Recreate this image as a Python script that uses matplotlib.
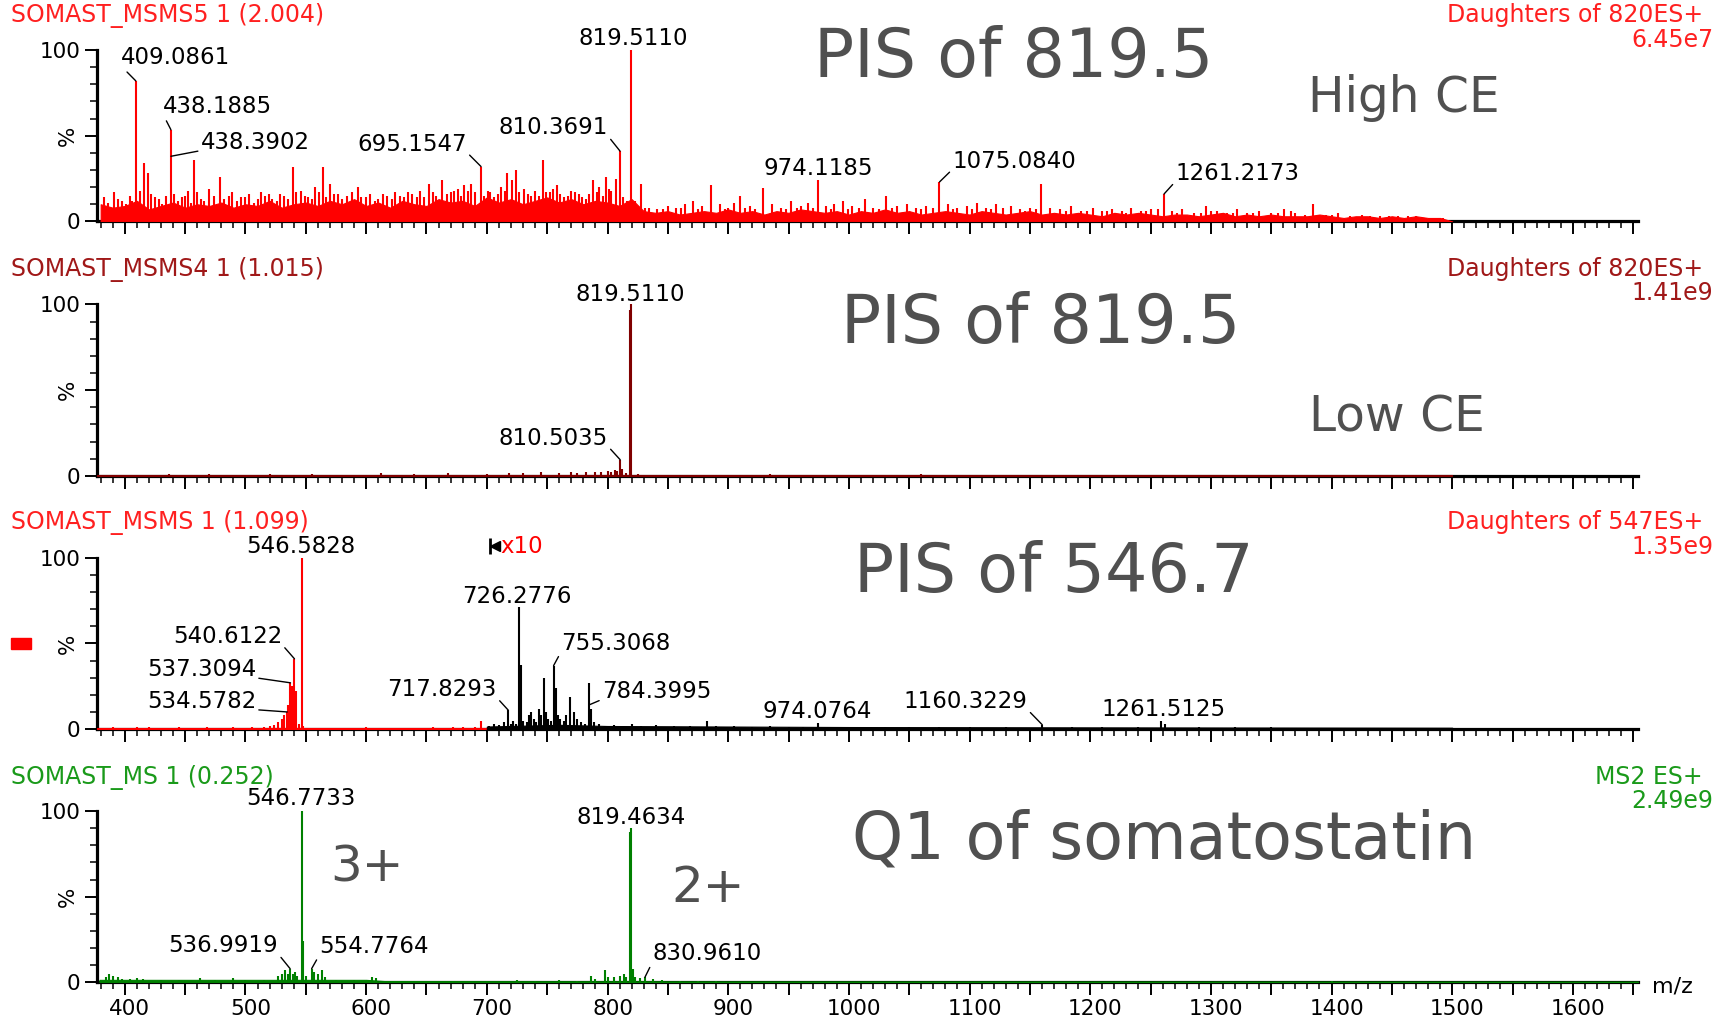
import numpy as np
import matplotlib

matplotlib.use("Agg")
import matplotlib.pyplot as plt
import matplotlib.ticker as mticker
from matplotlib.patches import Rectangle
from matplotlib.transforms import ScaledTranslation

# ---------------------------------------------------------------------------
# Data: (m/z, relative intensity %)
# ---------------------------------------------------------------------------

# Panel 1 - SOMAST_MSMS5 (high CE): dense noise floor, one value per 10 m/z
floor1_mz = np.arange(380, 1501, 10)
floor1_pct = [
    10, 8, 9, 12, 7, 9, 11, 8, 10, 9,
    11, 8, 10, 9, 12, 8, 10, 11, 9, 12,
    10, 13, 9, 11, 8, 12, 10, 9, 13, 11,
    12, 9, 14, 11, 13, 10, 12, 14, 11, 13,
    10, 12, 11, 9, 13, 6, 5, 6, 4, 5,
    6, 5, 7, 5, 6, 4, 6, 5, 7, 6,
    5, 6, 4, 6, 5, 7, 5, 6, 4, 5,
    6, 5, 4, 6, 5, 4, 5, 6, 4, 5,
    4, 5, 4, 3, 5, 4, 5, 4, 3, 4,
    4, 3, 4, 5, 3, 4, 3, 4, 3, 3,
    3, 4, 3, 2, 3, 3, 2, 3, 2, 3,
    2, 2, 0,
]
sticks1 = [
    (391, 17), (398, 12), (404, 15), (409.1, 82), (413, 18), (416, 34), (419, 28),
    (425, 14), (431, 10), (438.2, 53.5), (441, 16), (447, 14), (452, 18), (457, 36),
    (463, 13), (470, 19), (479, 26), (486, 15), (493, 12), (500, 14), (507, 11),
    (513, 17), (519.6, 16), (526, 12), (532, 15), (539, 32), (546, 18), (552, 14),
    (558, 20), (564, 32), (570, 22), (577, 16), (584, 15), (593, 20), (600, 14),
    (607, 12), (614, 16), (621, 13), (628, 15), (635, 17), (642, 14), (652, 22),
    (658, 15), (663, 24), (670, 17), (676, 19), (681, 21), (687, 22), (695.2, 32),
    (701, 18), (706, 14), (712, 20), (717, 28), (721, 24), (724, 30), (731, 19),
    (737, 15), (746.5, 36), (752, 17), (758, 21), (764, 14), (770, 18), (776, 16),
    (782, 13), (788, 24), (793, 20), (799, 26), (803, 18), (807, 25), (810.4, 41),
    (813, 14), (819.5, 100), (823, 12), (828, 22), (834, 8), (841, 7), (850, 9),
    (857, 8), (864, 10), (871, 12), (878, 9), (886, 21), (893, 10), (900, 8),
    (905, 11), (910, 15), (918, 9), (929, 19.5), (936, 10), (944, 8), (952, 12),
    (960, 9), (966, 11), (974.1, 24), (981, 9), (988, 10), (995, 12), (1003, 9),
    (1013, 13), (1020, 8), (1031, 15), (1040, 9), (1048, 10), (1056, 8), (1064, 9),
    (1075.1, 23), (1082, 10), (1090, 8), (1098, 9), (1106, 11), (1114, 8),
    (1122, 10), (1134, 9), (1142, 7), (1150, 8), (1159.6, 22), (1167, 8),
    (1175, 7), (1184, 9), (1192, 6), (1202, 8), (1210, 6), (1218, 7), (1226, 6),
    (1234, 8), (1242, 6), (1250, 7), (1261.2, 16), (1268, 6), (1276, 7), (1286, 5),
    (1296, 9), (1305, 6), (1313, 5), (1322, 7), (1330, 5), (1340, 6), (1350, 5),
    (1361, 7), (1370, 5), (1378, 4), (1385, 10), (1395, 4), (1405, 5), (1415, 3),
    (1425, 4), (1440, 3), (1455, 3), (1470, 3), (1485, 2),
]
# smaller spikes filling the gaps of panel 1
sticks1_small = [
    (383, 14), (386, 11), (394, 13), (401, 10), (406, 12), (422, 16), (428, 13),
    (434, 15), (444, 12), (450, 15), (455, 11), (460, 17), (466, 12), (474, 15),
    (482, 13), (489, 17), (496, 14), (503, 16), (510, 13), (516, 15), (522, 13),
    (529, 16), (535, 13), (542, 17), (549, 15), (555, 13), (561, 17), (567, 14),
    (573, 16), (580, 13), (588, 17), (596, 14), (603, 16), (610, 13), (617, 15),
    (624, 17), (631, 14), (638, 16), (645, 18), (648, 14), (655, 17), (667, 16),
    (673, 18), (679, 15), (684, 18), (690, 17), (698, 15), (703, 17), (709, 16),
    (715, 18), (727, 17), (734, 16), (740, 18), (743, 15), (749, 17), (755, 19),
    (761, 16), (767, 15), (773, 17), (779, 14), (785, 16), (791, 17), (796, 15),
    (801, 19), (816, 12), (825, 9), (831, 8), (846, 7), (861, 8), (875, 7),
    (897, 7), (914, 8), (922, 7), (948, 7), (957, 8), (970, 8), (985, 7),
    (999, 7), (1008, 8), (1025, 7), (1036, 8), (1060, 7), (1070, 8), (1086, 7),
    (1102, 7), (1118, 7), (1128, 8), (1146, 6), (1155, 7), (1180, 6), (1197, 6),
    (1214, 6), (1230, 5), (1246, 6), (1256, 7), (1272, 5), (1292, 5), (1300, 6),
    (1318, 5), (1335, 5), (1356, 5), (1366, 6), (1390, 4), (1400, 4), (1432, 3),
    (1448, 3), (1463, 3), (1478, 2), (1492, 2),
]

# Panel 2 - SOMAST_MSMS4 (low CE)
floor2 = [(377, 0.6), (1500, 0.6)]
sticks2 = [
    (437, 1), (470, 0.8), (520, 1.2), (555, 1), (612, 1.5), (640, 0.8), (668, 1.5),
    (700, 1.2), (718, 1.8), (730, 1.5), (745, 2), (760, 1.5), (770, 2.5), (775, 1.5),
    (782, 2), (790, 2.5), (795, 2), (800, 3), (803, 2.5), (806, 3.5), (808, 3),
    (810.5, 9.4), (812, 4), (815, 1.5), (818.8, 97), (819.5, 100), (825, 1),
    (860, 0.6), (935, 0.8), (1000, 0.5), (1060, 0.8),
]

# Panel 3 - SOMAST_MSMS (precursor 547), red below 700, x10 (black) above
floor3_red = [(377, 0.6), (700, 0.6)]
sticks3_red = [
    (390, 1), (410, 1), (420, 1.2), (445, 1), (468, 1), (490, 1.5), (505, 1),
    (515, 1.5), (520, 2), (524, 2.5), (527, 4), (530, 6), (532, 8), (534.6, 10),
    (535.5, 14), (537.3, 27), (538.5, 25), (539.5, 20), (540.6, 41), (542, 22),
    (544, 3), (546.6, 100), (548, 2), (560, 0.8), (600, 1), (655, 1.2), (672, 1),
    (680, 1), (690, 1), (695, 4.5),
]
floor3_x10 = [(700, 1.5), (760, 2.5), (800, 1.8), (900, 1.5), (1000, 1.2),
              (1200, 1.0), (1500, 0.8)]
sticks3_x10 = [
    (702, 2), (706, 3), (710, 2.5), (714, 4), (717.8, 11), (720, 3), (722, 5),
    (724, 3), (726.3, 71), (728, 37.6), (730, 5), (733, 4), (735, 8), (737, 10),
    (739, 6), (741, 4), (743, 12), (745, 8), (747, 30), (749, 10), (751, 6),
    (753, 5), (755.3, 37), (757, 24), (759, 8), (761, 6), (764, 5), (766, 8),
    (769, 19), (772, 10), (775, 6), (778, 4), (781, 3), (784.4, 27), (786, 12),
    (789, 4), (793, 3), (798, 2), (805, 2.5), (812, 2), (820, 3), (828, 2),
    (840, 2.5), (855, 2), (868, 2), (882.6, 4.5), (890, 2), (905, 2), (920, 1.5),
    (935, 2), (950, 1.5), (962, 1.5), (974.1, 3.5), (990, 1.5), (1010, 1.5),
    (1030, 1.2), (1050, 1.5), (1075, 1.2), (1100, 1.2), (1130, 1), (1160.3, 2.5),
    (1185, 1), (1210, 1.2), (1240, 1), (1259, 5), (1262, 3), (1290, 1), (1320, 1),
    (1350, 1), (1380, 0.8), (1420, 0.8), (1460, 0.8),
]

# Panel 4 - SOMAST_MS (Q1 scan)
floor4 = [(379, 1.5), (600, 1.5), (615, 0.8), (900, 0.6), (1654, 0.5)]
sticks4 = [
    (384, 3), (387, 5), (390, 4), (394, 3), (398, 2), (404, 2), (410, 2.5),
    (415, 2), (430, 1.5), (445, 1.5), (462, 2.5), (475, 1.5), (490, 2.5),
    (500, 1.5), (515, 1.5), (527, 4), (530, 5), (533, 7), (535, 5), (537, 8),
    (539, 5), (541, 6), (543, 4), (546.8, 100), (548, 24), (550, 4), (554.8, 8),
    (557, 6), (560, 5), (563, 7), (566, 3), (575, 1.5), (590, 1.5), (605, 3),
    (608, 2.5), (620, 1), (650, 0.8), (672, 1), (700, 0.8), (725, 1.5), (740, 1),
    (760, 1.5), (775, 1), (786, 4), (790, 2), (797.7, 7), (800, 3), (805, 3),
    (810, 4), (813.6, 5), (815, 3), (818.5, 88), (819.5, 90), (821, 8), (823, 3),
    (827, 2.5), (831, 3), (838, 2), (845, 1.5), (860, 1), (875, 1), (890, 0.8),
    (1210, 0.5), (1260, 0.5), (1340, 0.5), (1400, 0.6), (1440, 0.5),
]

# Header texts per panel
titles = ["SOMAST_MSMS5 1 (2.004)", "SOMAST_MSMS4 1 (1.015)",
          "SOMAST_MSMS 1 (1.099)", "SOMAST_MS 1 (0.252)"]
functions = ["Daughters of 820ES+", "Daughters of 820ES+",
             "Daughters of 547ES+", "MS2 ES+"]
intensities = ["6.45e7", "1.41e9", "1.35e9", "2.49e9"]

# ---------------------------------------------------------------------------
# Peak labels: (text, peak m/z, peak %, label m/z, label %, leader?)
# ---------------------------------------------------------------------------
labels = [
    [("819.5110", 819.5, 100, 821, 107, False),
     ("409.0861", 409.1, 82, 442, 95.5, True),
     ("438.1885", 438.2, 53.5, 477, 67, True),
     ("438.3902", 438.2, 38, 508, 46, True),
     ("695.1547", 695.2, 32, 638, 45, True),
     ("810.3691", 810.4, 41, 755, 54.6, True),
     ("974.1185", 974.1, 24, 975, 31, False),
     ("1075.0840", 1075.1, 23, 1137, 35, True),
     ("1261.2173", 1261.2, 16, 1322, 28, True)],
    [("819.5110", 819.5, 100, 819, 106, False),
     ("810.5035", 810.5, 9.4, 755, 22, True)],
    [("546.5828", 546.6, 100, 545.5, 106.6, False),
     ("540.6122", 540.6, 41, 485, 54, True),
     ("537.3094", 537.3, 27, 463.5, 34.6, True),
     ("534.5782", 534.6, 10, 463.5, 16, True),
     ("726.2776", 726.3, 71, 725, 77.5, False),
     ("755.3068", 755.3, 37, 807, 50, True),
     ("717.8293", 717.8, 11, 663, 23, True),
     ("784.3995", 784.4, 14, 840.7, 22, True),
     ("974.0764", 974.1, 3.5, 973.5, 10, False),
     ("1160.3229", 1160.3, 2.5, 1096.8, 16, True),
     ("1261.5125", 1259, 5, 1260.7, 11.7, False)],
    [("546.7733", 546.8, 100, 545.5, 107.4, False),
     ("819.4634", 819.5, 90, 819.7, 96.3, False),
     ("536.9919", 537, 8, 481.7, 21.3, True),
     ("554.7764", 554.8, 8, 606.6, 20.7, True),
     ("830.9610", 831, 3, 882.6, 16.7, True)],
]

# ---------------------------------------------------------------------------
# Style / layout
# ---------------------------------------------------------------------------
RED = "#ff0000"
DARK_RED = "#800000"
GREEN = "#008000"
TEXT_COLORS = ["#ff2020", "#a01818", "#ff2020", "#1a9a1a"]
BIG_GRAY = "#505050"

BOTTOMS = [0.7823, 0.5321, 0.2831, 0.0340]
AX_LEFT, AX_WIDTH, AX_HEIGHT = 0.0562, 0.8923, 0.1685
TITLE_Y = [0.9781, 0.7290, 0.4800, 0.2295]
INT_Y = [0.9538, 0.7047, 0.4556, 0.2052]
XLIM = (377, 1654)

LABEL_FS = 16.5
HEAD_FS = 17


def draw_sticks(ax, floor_x, floor_y, sticks, color, lw=1.5):
    ax.fill_between(floor_x, 0, floor_y, color=color, lw=0.8, zorder=3)
    s = np.array(sticks, dtype=float)
    ax.vlines(s[:, 0], 0, s[:, 1], color=color, lw=lw, zorder=3)


def style_axes(ax, bottom_labels):
    ax.set_xlim(*XLIM)
    ax.set_ylim(0, 100)
    for side in ("top", "right"):
        ax.spines[side].set_visible(False)
    ax.spines["left"].set_linewidth(2.3)
    ax.spines["bottom"].set_linewidth(2.3)
    ax.yaxis.set_major_locator(mticker.FixedLocator([0, 50, 100]))
    ax.yaxis.set_major_formatter(mticker.FixedFormatter(["0", "", "100"]))
    ax.yaxis.set_minor_locator(mticker.MultipleLocator(10))
    ax.xaxis.set_major_locator(mticker.MultipleLocator(50))
    ax.xaxis.set_minor_locator(mticker.MultipleLocator(10))
    ax.tick_params(which="major", length=9, width=1.4, labelsize=15.5, pad=3)
    ax.tick_params(which="minor", length=5, width=1.1)
    if bottom_labels:
        ax.xaxis.set_major_formatter(mticker.FuncFormatter(
            lambda v, p: f"{v:.0f}" if round(v) % 100 == 0 else ""))
        # the instrument prints its m/z labels a few pixels right of the tick
        shift = ScaledTranslation(5 / 100, 0, ax.figure.dpi_scale_trans)
        for lab in ax.get_xticklabels():
            lab.set_transform(lab.get_transform() + shift)
    else:
        ax.tick_params(axis="x", labelbottom=False)
    ax.text(-0.019, 0.5, "%", transform=ax.transAxes, rotation=90,
            ha="center", va="center", fontsize=15.5)


def add_labels(ax, items):
    for text, px, py, tx, ty, leader in items:
        if leader:
            rel = (0.0, 0.15) if tx > px else (1.0, 0.15)
            ax.annotate(text, xy=(px, py), xytext=(tx, ty), ha="center",
                        va="center", fontsize=LABEL_FS, annotation_clip=False,
                        arrowprops=dict(arrowstyle="-", lw=1.0, color="black",
                                        shrinkA=0, shrinkB=0, relpos=rel))
        else:
            ax.text(tx, ty, text, ha="center", va="center",
                    fontsize=LABEL_FS, clip_on=False)


fig = plt.figure(figsize=(17.27, 10.17), dpi=100)
axes = []
for i, bottom in enumerate(BOTTOMS):
    ax = fig.add_axes([AX_LEFT, bottom, AX_WIDTH, AX_HEIGHT])
    axes.append(ax)
for i, ax in enumerate(axes):
    style_axes(ax, bottom_labels=(i == 3))

draw_sticks(axes[0], floor1_mz, floor1_pct, sticks1, RED)
s1s = np.array(sticks1_small)
axes[0].vlines(s1s[:, 0], 0, s1s[:, 1], color=RED, lw=1.5, zorder=3)
f2 = np.array(floor2)
draw_sticks(axes[1], f2[:, 0], f2[:, 1], sticks2, DARK_RED)
f3r, f3b = np.array(floor3_red), np.array(floor3_x10)
draw_sticks(axes[2], f3r[:, 0], f3r[:, 1], sticks3_red, RED)
draw_sticks(axes[2], f3b[:, 0], f3b[:, 1], sticks3_x10, "black")
f4 = np.array(floor4)
draw_sticks(axes[3], f4[:, 0], f4[:, 1], sticks4, GREEN)

for ax, items in zip(axes, labels):
    add_labels(ax, items)

# x10 magnification marker in panel 3
axes[2].plot([702.5], [106.6], marker="|", ms=11, mew=2, color="black", clip_on=False)
axes[2].plot([707], [106.6], marker="<", ms=7, color="black", clip_on=False)
axes[2].text(711, 106.6, "x10", color=RED, fontsize=LABEL_FS, va="center",
             ha="left", clip_on=False)

# headers
for i in range(4):
    fig.text(0.0064, TITLE_Y[i], titles[i], color=TEXT_COLORS[i],
             fontsize=HEAD_FS, va="baseline", ha="left")
    fig.text(0.9861, TITLE_Y[i], functions[i], color=TEXT_COLORS[i],
             fontsize=HEAD_FS, va="baseline", ha="right")
    fig.text(0.9919, INT_Y[i], intensities[i], color=TEXT_COLORS[i],
             fontsize=HEAD_FS, va="baseline", ha="right")

# large annotations
big = dict(color=BIG_GRAY, ha="center", va="baseline")
fig.text(0.5871, 0.9246, "PIS of 819.5", fontsize=48, **big)
fig.text(0.8130, 0.8902, "High CE", fontsize=35, **big)
fig.text(0.6028, 0.6632, "PIS of 819.5", fontsize=48, **big)
fig.text(0.8089, 0.5755, "Low CE", fontsize=35, **big)
fig.text(0.6103, 0.4182, "PIS of 546.7", fontsize=48, **big)
fig.text(0.6740, 0.1560, "Q1 of somatostatin", fontsize=47, **big)
fig.text(0.2125, 0.1330, "3+", fontsize=36, **big)
fig.text(0.4100, 0.1134, "2+", fontsize=36, **big)

# small red swatch next to panel 3 and the m/z axis label
fig.patches.append(Rectangle((10.7 / 1727, 1 - 648.7 / 1017), 20.3 / 1727,
                             11 / 1017, transform=fig.transFigure,
                             color=RED, zorder=5))
fig.text(1652 / 1727, 1 - 987 / 1017, "m/z", fontsize=16, ha="left", va="center")

fig.savefig("out.png", dpi=100)
